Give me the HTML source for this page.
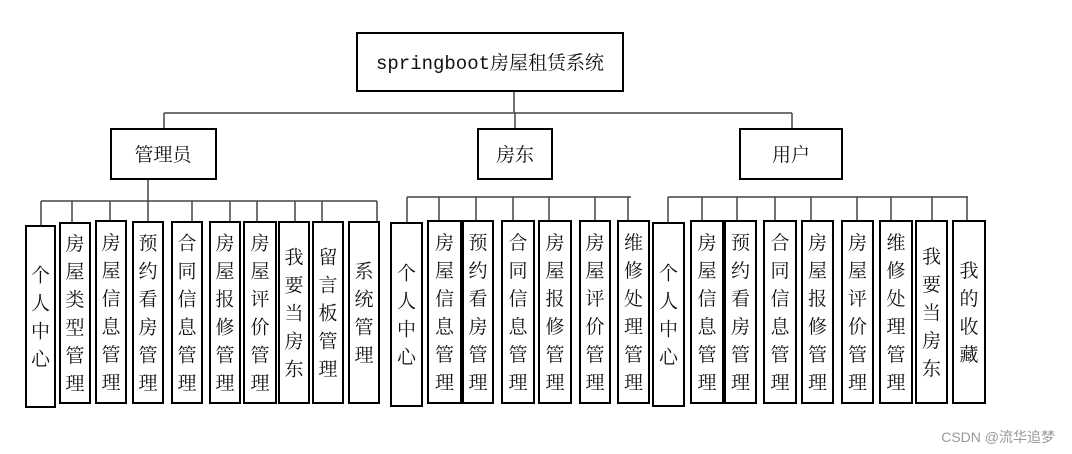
<!DOCTYPE html>
<html><head><meta charset="utf-8"><style>
html,body{margin:0;padding:0;background:#fff;width:1072px;height:454px;overflow:hidden}
svg{display:block}
.cj{font-family:"Liberation Serif","Noto Serif CJK SC",serif;font-size:19px;fill:#111}
</style></head><body>
<svg width="1072" height="454" viewBox="0 0 1072 454" xmlns="http://www.w3.org/2000/svg">
<g stroke="#444" stroke-width="1.5" fill="none">
<line x1="514" y1="91" x2="514" y2="113"/>
<line x1="164" y1="113" x2="792" y2="113"/>
<line x1="164" y1="113" x2="164" y2="129"/>
<line x1="515" y1="113" x2="515" y2="129"/>
<line x1="792" y1="113" x2="792" y2="129"/>
<line x1="148" y1="179" x2="148" y2="201"/>
<line x1="41" y1="201" x2="377" y2="201"/>
<line x1="407" y1="197" x2="631" y2="197"/>
<line x1="668" y1="197" x2="968" y2="197"/>
</g>
<g stroke="#444" stroke-width="1.5" id="drops"></g>
<g stroke="#000" stroke-width="2" fill="#fff">
<rect x="357" y="33" width="266" height="58"/>
<rect x="111" y="129" width="105" height="50"/>
<rect x="478" y="129" width="74" height="50"/>
<rect x="740" y="129" width="102" height="50"/>
</g>
<text x="490" y="69" text-anchor="middle" font-family="'Liberation Mono','Noto Serif CJK SC',monospace" font-size="19" fill="#111">springboot房屋租赁系统</text>
<text x="163" y="161" text-anchor="middle" class="cj" font-size="20">管理员</text>
<text x="515" y="161" text-anchor="middle" class="cj">房东</text>
<text x="791" y="161" text-anchor="middle" class="cj">用户</text>
<g id="boxes"></g>
<text x="1055" y="442" text-anchor="end" font-family="'Liberation Sans','Noto Sans CJK SC',sans-serif" font-size="14" fill="#999">CSDN @流华追梦</text>
</svg>
<script>
var B=[
[26,55,226,407,"个人中心",201],[60,90,223,403,"房屋类型管理",201],[96,126,221,403,"房屋信息管理",201],[133,163,222,403,"预约看房管理",201],[172,202,222,403,"合同信息管理",201],[210,240,222,403,"房屋报修管理",201],[244,276,222,403,"房屋评价管理",201],[279,309,222,403,"我要当房东",201],[313,343,222,403,"留言板管理",201],[349,379,222,403,"系统管理",201],
[391,422,223,406,"个人中心",197],[428,461,221,403,"房屋信息管理",197],[463,493,221,403,"预约看房管理",197],[502,534,221,403,"合同信息管理",197],[539,571,221,403,"房屋报修管理",197],[580,610,221,403,"房屋评价管理",197],[618,649,221,403,"维修处理管理",197],
[653,684,223,406,"个人中心",197],[691,723,221,403,"房屋信息管理",197],[725,756,221,403,"预约看房管理",197],[764,796,221,403,"合同信息管理",197],[802,833,221,403,"房屋报修管理",197],[842,873,221,403,"房屋评价管理",197],[880,912,221,403,"维修处理管理",197],[916,947,221,403,"我要当房东",197],[953,985,221,403,"我的收藏",197]];
var D=[41,72,110,148,192,230,257,295,322,377,407,439,476,513,549,595,628,668,702,737,775,811,857,891,932,967];
var ns="http://www.w3.org/2000/svg",g=document.getElementById("boxes"),dg=document.getElementById("drops"),h="";
var dh="";
B.forEach(function(b,i){dh+='<line x1="'+D[i]+'" y1="'+b[5]+'" x2="'+D[i]+'" y2="'+b[2]+'"/>';
h+='<rect x="'+b[0]+'" y="'+b[2]+'" width="'+(b[1]-b[0])+'" height="'+(b[3]-b[2])+'" fill="#fff" stroke="#000" stroke-width="2"/>';
var n=b[4].length,cx=(b[0]+b[1])/2,cy=(b[2]+b[3])/2,t=cy-(n*28)/2+21;
for(var k=0;k<n;k++)h+='<text class="cj" x="'+cx+'" y="'+(t+k*28)+'" text-anchor="middle">'+b[4][k]+'</text>';});
dg.innerHTML=dh;g.innerHTML=h;
</script>
</body></html>
